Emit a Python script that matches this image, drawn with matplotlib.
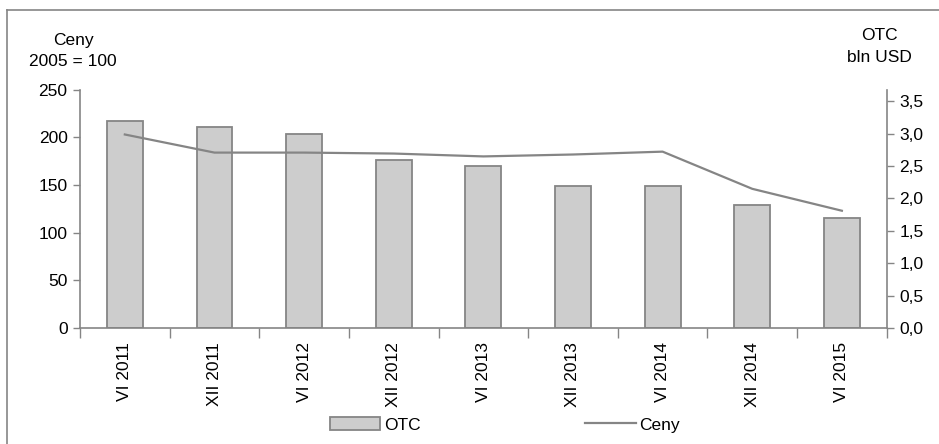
import numpy as np
import matplotlib
matplotlib.use("Agg")
import matplotlib.pyplot as plt
from matplotlib.lines import Line2D

plt.rcParams['font.family'] = ['Liberation Sans', 'DejaVu Sans']

# Semi-annual data: OTC volume (bln USD) and price index (2005 = 100)
periods = ['VI 2011', 'XII 2011', 'VI 2012', 'XII 2012', 'VI 2013',
           'XII 2013', 'VI 2014', 'XII 2014', 'VI 2015']
otc = [3.2, 3.1, 3.0, 2.6, 2.5, 2.2, 2.2, 1.9, 1.7]
ceny = [203, 184, 184, 183, 180, 182, 185, 146, 123]

left_ticks = [0, 50, 100, 150, 200, 250]
right_ticks = [0.0, 0.5, 1.0, 1.5, 2.0, 2.5, 3.0, 3.5]

GREY = '#858585'
FS = 12.5

fig = plt.figure(figsize=(9.39, 4.44), dpi=100)
ax = fig.add_axes([0.0852, 0.2613, 0.9443 - 0.0852, 0.798 - 0.2613])
ax2 = ax.twinx()

x = np.arange(len(periods))

# bars (OTC) on the right axis
ax2.bar(x, otc, width=0.4, color='#cdcdcd', edgecolor=GREY, linewidth=1.3)
ax2.set_ylim(0, 3.68)
ax2.set_yticks(right_ticks)
ax2.set_yticklabels([f'{v:.1f}'.replace('.', ',') for v in right_ticks])

# price line on the left axis, drawn above the bars
ax.plot(x, ceny, color=GREY, linewidth=1.6)
ax.set_zorder(ax2.get_zorder() + 1)
ax.patch.set_visible(False)
ax.set_ylim(0, 250)
ax.set_yticks(left_ticks)
ax.set_xlim(-0.5, len(periods) - 0.5)

ax.set_xticks(x)
ax.set_xticklabels(periods, rotation=90, fontsize=FS)
ax.set_xticks(np.arange(-0.5, len(periods)), minor=True)
ax.tick_params(axis='x', which='major', length=0, pad=10)
ax.tick_params(axis='x', which='minor', length=7, color=GREY, width=1)
ax.tick_params(axis='y', length=5, color=GREY, width=1, labelsize=FS, pad=4)
ax2.tick_params(axis='y', length=5, color=GREY, width=1, labelsize=FS, pad=4)

for a in (ax, ax2):
    a.spines['top'].set_visible(False)
    for s in ('left', 'right', 'bottom'):
        a.spines[s].set_color(GREY)
        a.spines[s].set_linewidth(1.2)
ax.spines['right'].set_visible(False)
ax2.spines['left'].set_visible(False)
ax2.spines['bottom'].set_visible(False)

# axis captions
fig.text(73 / 939, 1 - 40 / 444, 'Ceny', ha='center', va='center', fontsize=FS)
fig.text(73 / 939, 1 - 61 / 444, '2005 = 100', ha='center', va='center', fontsize=FS)
fig.text(879 / 939, 1 - 35 / 444, 'OTC', ha='center', va='center', fontsize=FS)
fig.text(879 / 939, 1 - 57 / 444, 'bln USD', ha='center', va='center', fontsize=FS)

# legend
h_bar = plt.Rectangle((0, 0), 1, 1, facecolor='#cdcdcd', edgecolor=GREY, linewidth=1.3)
h_line = Line2D([], [], color=GREY, linewidth=1.6)
fig.legend([h_bar, h_line], ['OTC', 'Ceny'], loc='center', ncol=2,
           bbox_to_anchor=(505 / 939, 1 - 425 / 444), frameon=False,
           fontsize=FS, handlelength=2.9, handleheight=0.7, handletextpad=0.2,
           columnspacing=9.5)

# outer frame
fig.add_artist(Line2D([7 / 939, 1], [1 - 10 / 444, 1 - 10 / 444],
                      transform=fig.transFigure, color=GREY, linewidth=1.2))
fig.add_artist(Line2D([7 / 939, 7 / 939], [0, 1 - 10 / 444],
                      transform=fig.transFigure, color=GREY, linewidth=1.2))

fig.savefig('out.png', dpi=100)
